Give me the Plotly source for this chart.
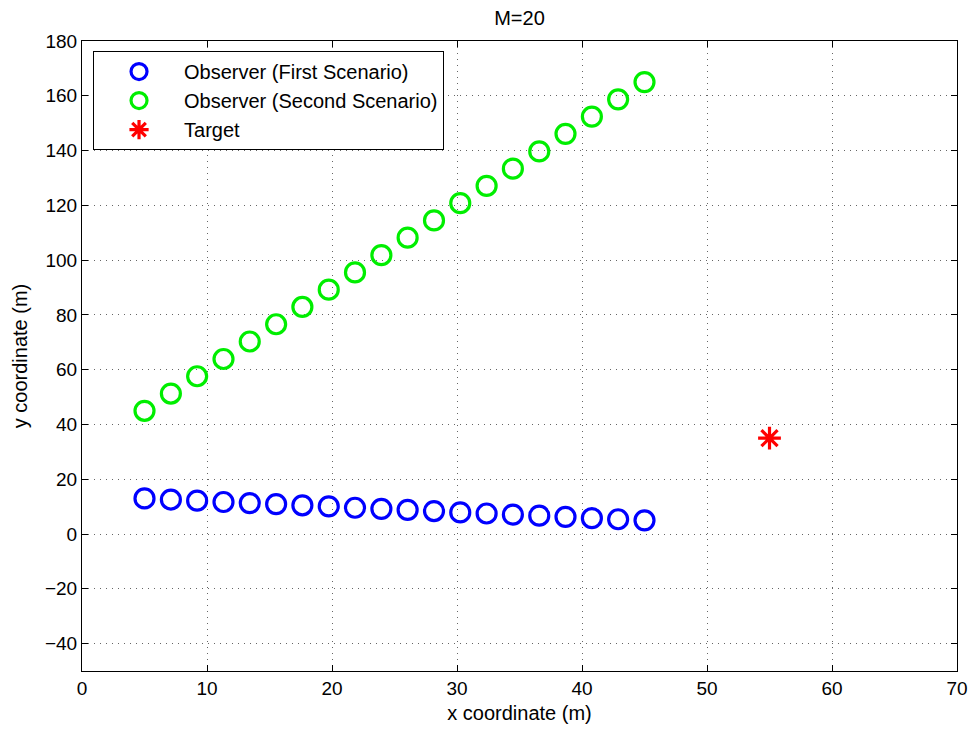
import plotly.graph_objects as go

obs_x = [5.0, 7.11, 9.21, 11.32, 13.42, 15.53, 17.63, 19.74, 21.84, 23.95,
         26.05, 28.16, 30.26, 32.37, 34.47, 36.58, 38.68, 40.79, 42.89, 45.0]
obs1_y = [13.0, 12.6, 12.2, 11.7, 11.3, 10.9, 10.5, 10.1, 9.6, 9.2,
          8.8, 8.4, 7.9, 7.5, 7.1, 6.7, 6.3, 5.8, 5.4, 5.0]
obs2_y = [45.0, 51.3, 57.6, 63.9, 70.3, 76.6, 82.9, 89.2, 95.5, 101.8,
          108.2, 114.5, 120.8, 127.1, 133.4, 139.7, 146.1, 152.4, 158.7, 165.0]
target_x = [55.0]
target_y = [35.0]

x_ticks = [0, 10, 20, 30, 40, 50, 60, 70]
y_ticks = [-40, -20, 0, 20, 40, 60, 80, 100, 120, 140, 160, 180]
y_tick_text = ["\u221240", "\u221220", "0", "20", "40", "60", "80", "100", "120", "140", "160", "180"]

font = "Liberation Sans, Arial, sans-serif"

fig = go.Figure()
fig.add_trace(go.Scatter(x=obs_x, y=obs1_y, mode="markers", name="Observer (First Scenario)",
                         marker=dict(symbol="circle-open", size=19, color="#0000ff",
                                     line=dict(width=3.2, color="#0000ff"))))
fig.add_trace(go.Scatter(x=obs_x, y=obs2_y, mode="markers", name="Observer (Second Scenario)",
                         marker=dict(symbol="circle-open", size=19, color="#00ee00",
                                     line=dict(width=3.2, color="#00ee00"))))
fig.add_trace(go.Scatter(x=target_x, y=target_y, mode="markers", name="Target",
                         marker=dict(symbol="asterisk-open", size=19, color="#ff0000",
                                     line=dict(width=3.2, color="#ff0000"))))

axis_common = dict(showline=True, linecolor="black", linewidth=1, mirror="ticks",
                   ticks="inside", ticklen=6, tickcolor="black", automargin=False,
                   showgrid=True, gridcolor="rgba(0,0,0,0.6)", griddash="1px,5px", gridwidth=1,
                   zeroline=False, tickfont=dict(size=19, color="black", family=font))

fig.update_layout(
    width=971, height=731,
    paper_bgcolor="white", plot_bgcolor="white",
    margin=dict(l=82, r=14, t=41, b=60),
    title=dict(text="M=20", x=0.535, xanchor="center", y=0.975, yanchor="middle",
               font=dict(size=20, color="black", family=font)),
    font=dict(family=font, color="black", size=19),
    xaxis=dict(range=[0, 70], tickvals=x_ticks,
               title=dict(text="x coordinate (m)", font=dict(size=20), standoff=8), **axis_common),
    yaxis=dict(range=[-50, 180], tickvals=y_ticks, ticktext=y_tick_text,
               title=dict(text="y coordinate (m)", font=dict(size=20), standoff=11), **axis_common),
    legend=dict(x=0.0126, y=0.984, xanchor="left", yanchor="top",
                bgcolor="white", bordercolor="black", borderwidth=1,
                font=dict(size=20, color="black", family=font),
                itemwidth=80, tracegroupgap=0),
    showlegend=True,
)

fig.write_html("out.html")
